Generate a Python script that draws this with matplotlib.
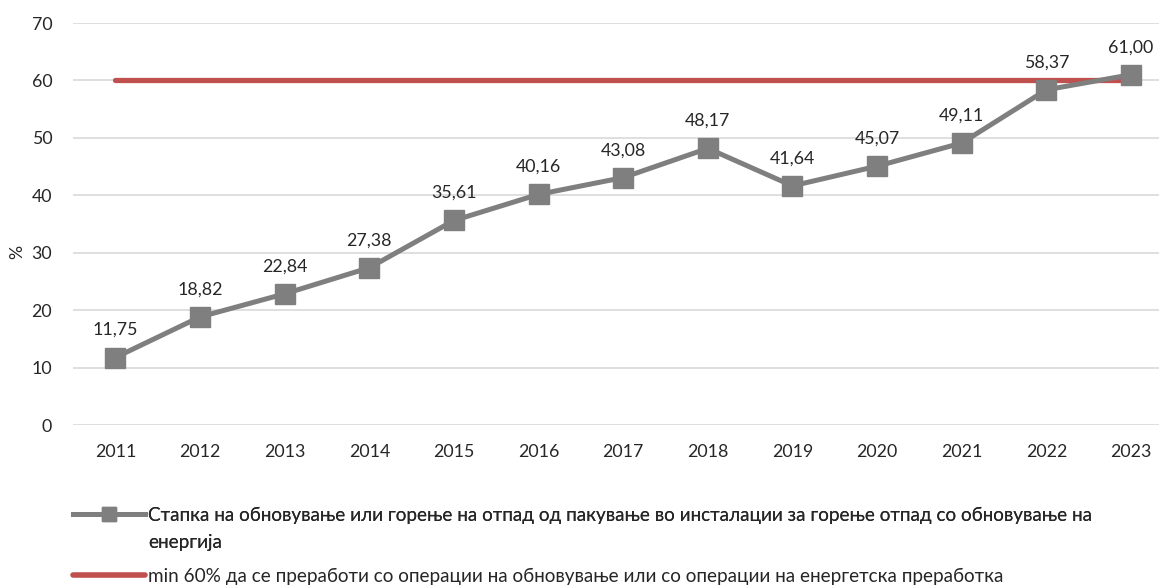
import matplotlib.pyplot as plt
from matplotlib.lines import Line2D

# Податоци
years = ['2011', '2012', '2013', '2014', '2015', '2016', '2017',
         '2018', '2019', '2020', '2021', '2022', '2023']
recovery_rate = [11.75, 18.82, 22.84, 27.38, 35.61, 40.16, 43.08,
                 48.17, 41.64, 45.07, 49.11, 58.37, 61.00]
target = [60] * len(years)

label_rate_1 = ('Стапка на обновување или горење на отпад од пакување во инсталации '
                'за горење отпад со обновување на')
label_rate_2 = 'енергија'
label_target = 'min 60% да се преработи со операции на обновување или со операции на енергетска преработка'

plt.rcParams['font.family'] = ['Lato', 'DejaVu Sans']
text_color = '#262626'
gray = '#7f7f7f'
red = '#c0504d'
fs = 12.8
fs_leg = 13.6

fig = plt.figure(figsize=(11.59, 5.86), dpi=100)
ax = fig.add_axes([73 / 1159, 1 - 425 / 586, 1 - 73 / 1159, (425 - 23) / 586])

x = list(range(len(years)))
ax.plot(x, target, color=red, linewidth=3.8, solid_capstyle='round', zorder=2)
ax.plot(x, recovery_rate, color=gray, linewidth=3.6, marker='s',
        markersize=14, zorder=3)

for xi, v in zip(x, recovery_rate):
    ax.annotate(f'{v:.2f}'.replace('.', ','), (xi, v), xytext=(0, 14),
                textcoords='offset points', ha='center', va='bottom',
                fontsize=fs, color=text_color)

ax.set_xlim(-0.5, 12.33)
ax.set_ylim(0, 70)
ax.set_yticks(range(0, 71, 10))
ax.set_xticks(x)
ax.set_xticklabels(years)
ax.tick_params(axis='both', length=0, labelsize=fs, labelcolor=text_color)
ax.tick_params(axis='x', pad=14)
ax.tick_params(axis='y', pad=15)
ax.grid(axis='y', color='#d9d9d9', linewidth=1.2)
ax.set_axisbelow(True)
for s in ax.spines.values():
    s.set_visible(False)

ax.set_ylabel('%', fontsize=fs, color=text_color)
ax.yaxis.set_label_coords(-0.044, 0.43)

# легенда: две посебни легенди за да се добие растојанието како во оригиналот
h_rate = [Line2D([], [], color=gray, linewidth=3.6, marker='s', markersize=10),
          Line2D([], [], color='none')]
leg1 = fig.legend(h_rate, [label_rate_1, label_rate_2], loc='upper left',
                  bbox_to_anchor=(64 / 1159, 1 - 497 / 586), frameon=False,
                  fontsize=fs_leg, labelcolor=text_color, handlelength=3.8,
                  handletextpad=0.15, labelspacing=0.55, borderpad=0)
fig.add_artist(leg1)

h_target = [Line2D([], [], color=red, linewidth=4, solid_capstyle='round')]
fig.legend(h_target, [label_target], loc='upper left',
           bbox_to_anchor=(64 / 1159, 1 - 558 / 586), frameon=False,
           fontsize=fs_leg, labelcolor=text_color, handlelength=3.8,
           handletextpad=0.15, borderpad=0)

fig.savefig('out.png', dpi=100)
